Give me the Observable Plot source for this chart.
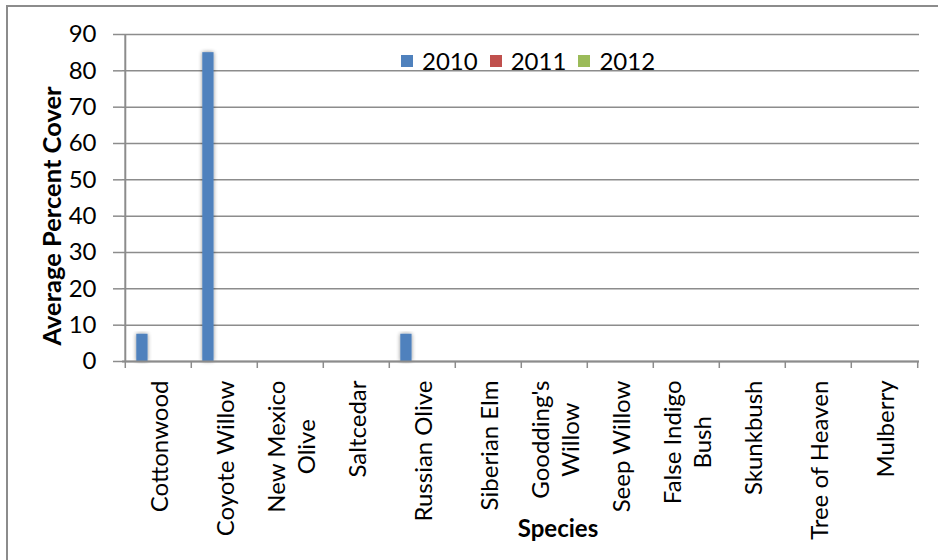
<!DOCTYPE html>
<html>
<head>
<meta charset="utf-8">
<script src="https://cdn.jsdelivr.net/npm/d3@7"></script>
<script src="https://cdn.jsdelivr.net/npm/@observablehq/plot@0.6"></script>
<style>
  body { margin: 0; background: #fff; }
  #chart { position: relative; width: 938px; height: 560px; overflow: hidden; background: #fff; }
  #border { position: absolute; left: 6px; top: 5px; width: 980px; height: 620px; border: 2px solid #8c8c8c; }
  #chart svg { position: absolute; left: 0; top: 0; }
  #legend { position: absolute; left: 401px; top: 46px; display: flex; align-items: center;
            font-family: Lato, sans-serif; font-size: 24px; color: #000; }
  #legend .item { display: flex; align-items: center; margin-right: 12px; }
  #legend .sw { width: 12px; height: 12px; margin-right: 9px; }
</style>
</head>
<body>
<div id="chart"><div id="border"></div></div>
<script>
// Species along the x axis ("\n" breaks a label onto two lines)
const species = [
  "Cottonwood", "Coyote Willow", "New Mexico\nOlive", "Saltcedar", "Russian Olive",
  "Siberian Elm", "Goodding's\nWillow", "Seep Willow", "False Indigo\nBush",
  "Skunkbush", "Tree of Heaven", "Mulberry"
];
const years = ["2010", "2011", "2012"];
// Average percent cover per species, one array per survey year
const cover2010 = [7.5, 85, 0, 0, 7.5, 0, 0, 0, 0, 0, 0, 0];
const cover2011 = [0, 0, 0, 0, 0, 0, 0, 0, 0, 0, 0, 0];
const cover2012 = [0, 0, 0, 0, 0, 0, 0, 0, 0, 0, 0, 0];
const yTicks = [0, 10, 20, 30, 40, 50, 60, 70, 80, 90];
const colors = ["#4F81BD", "#C0504D", "#9BBB59"];

const W = 938, H = 560;
const margin = {left: 122, right: 19, top: 34, bottom: 199};
const gray = "#8c8c8c";
const font = "Lato";
const tickFont = 24;
const yTitleFont = 25.5;
const xTitleFont = 24;

// band geometry: three side-by-side bars per species band
const bw = (W - margin.left - margin.right) / species.length;
const barW = bw * 0.176;
const groupOffset = bw * 0.17;
const seriesDx = j => groupOffset + (j + 0.5) * barW - bw / 2;
const inset = (bw - barW) / 2;

// measure the longest line of each label so rotated labels hang from the axis
const ctx = document.createElement("canvas").getContext("2d");
ctx.font = `${tickFont}px ${font}`;
const halfLen = s => d3.max(s.split("\n"), l => ctx.measureText(l).width) / 2;

const series = [cover2010, cover2011, cover2012];
const rows = series.map(vals => species.map((s, i) => ({species: s, value: vals[i]})));

const plot = Plot.plot({
  width: W,
  height: H,
  marginLeft: margin.left,
  marginRight: margin.right,
  marginTop: margin.top,
  marginBottom: margin.bottom,
  style: {fontFamily: font, fontSize: `${tickFont}px`, color: "#000", background: "transparent", overflow: "visible"},
  x: {domain: species, padding: 0, axis: null},
  y: {domain: [0, 90], axis: null},
  marks: [
    Plot.gridY(yTicks, {stroke: gray, strokeOpacity: 1, strokeWidth: 1.5}),
    ...rows.map((data, j) => Plot.barY(data, {
      x: "species", y: "value", fill: colors[j],
      insetLeft: inset, insetRight: inset, dx: seriesDx(j)
    })),
    // axis lines
    Plot.ruleY([0], {stroke: gray, strokeWidth: 2}),
    Plot.ruleX([species[0]], {y1: 0, y2: 90, dx: -bw / 2, stroke: gray, strokeWidth: 2}),
    // category tick marks at band boundaries
    Plot.axisX(species, {dx: -bw / 2, tickSize: 7, tickFormat: () => "", label: null, stroke: gray, strokeWidth: 1.5}),
    Plot.axisX([species[species.length - 1]], {dx: bw / 2, tickSize: 7, tickFormat: () => "", label: null, stroke: gray, strokeWidth: 1.5}),
    Plot.axisY({ticks: yTicks, tickSize: 9, tickPadding: 17, label: null, stroke: gray, strokeWidth: 1.5, fontSize: tickFont, tickFormat: d => String(d)}),
    // rotated category labels
    ...species.map(s => Plot.text([s], {
      x: d => d, text: d => d, frameAnchor: "bottom", rotate: -90,
      textAnchor: "middle", lineAnchor: "middle", lineHeight: 1.22,
      dy: 19 + halfLen(s), fontSize: tickFont, fill: "#000"
    })),
    // axis titles
    Plot.text(["Average Percent Cover"], {frameAnchor: "left", rotate: -90, textAnchor: "middle",
      dx: -70, dy: 18, fontWeight: "bold", fontSize: yTitleFont, fill: "#000"}),
    Plot.text(["Species"], {frameAnchor: "bottom", dx: 37, dy: 175,
      fontWeight: "bold", fontSize: xTitleFont, fill: "#000"})
  ]
});

// soft grey halo around the bars
const svg = d3.select(plot);
const filter = svg.insert("defs", ":first-child").append("filter")
  .attr("id", "bar-glow").attr("x", "-50%").attr("y", "-10%").attr("width", "200%").attr("height", "120%");
filter.append("feGaussianBlur").attr("in", "SourceAlpha").attr("stdDeviation", 2.2).attr("result", "blur");
filter.append("feComponentTransfer").attr("in", "blur").attr("result", "halo")
  .append("feFuncA").attr("type", "linear").attr("slope", 0.45);
const merge = filter.append("feMerge");
merge.append("feMergeNode").attr("in", "halo");
merge.append("feMergeNode").attr("in", "SourceGraphic");
svg.selectAll('g[aria-label="bar"] rect').attr("filter", "url(#bar-glow)");

const chart = document.getElementById("chart");
chart.appendChild(plot);

// legend for the three survey years
const legend = d3.select(chart).append("div").attr("id", "legend");
years.forEach((y, j) => {
  const item = legend.append("div").attr("class", "item");
  item.append("div").attr("class", "sw").style("background", colors[j]);
  item.append("span").text(y);
});
</script>
</body>
</html>
